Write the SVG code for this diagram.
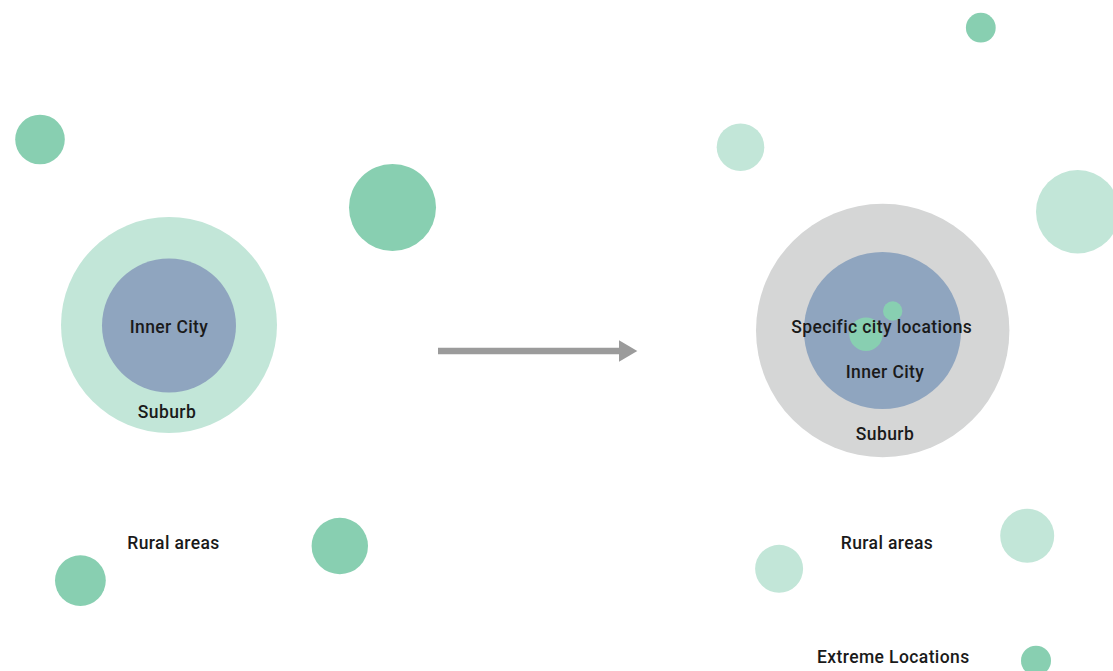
<svg xmlns="http://www.w3.org/2000/svg" width="1113" height="671" viewBox="0 0 1113 671">
  <style>
    .dot { fill: #88cfb1; }
    .dot-light { fill: #c2e6d8; }
    .city { fill: #8fa5bf; }
    .suburb-green { fill: #c2e6d8; }
    .suburb-grey { fill: #d5d6d6; }
    .label { font-family: Roboto, "Liberation Sans", Arial, sans-serif; font-weight: 500; font-size: 17.5px; letter-spacing: 0.4px; fill: #1a1a1a; text-anchor: middle; }
    .connector { stroke: #9b9b9b; stroke-width: 6.5; fill: none; }
  </style>
  <defs>
    <marker id="arrowhead" markerUnits="userSpaceOnUse" markerWidth="19" markerHeight="22" refX="1" refY="10.8" orient="auto">
      <path d="M0,0 L18.3,10.8 L0,21.6 Z" fill="#9b9b9b"/>
    </marker>
  </defs>
  <rect width="1113" height="671" fill="#ffffff"/>

  <!-- Before: city with a single suburb ring -->
  <g id="before-suburb">
    <circle class="suburb-green" cx="169" cy="325" r="108"/>
    <text class="label" x="167" y="418">Suburb</text>
  </g>
  <g id="before-inner-city">
    <circle class="city" cx="169" cy="325.5" r="67"/>
    <text class="label" x="169" y="333">Inner City</text>
  </g>
  <g id="before-rural">
    <circle class="dot" cx="40" cy="139.5" r="24.8"/>
    <circle class="dot" cx="392.5" cy="207.5" r="43.5"/>
    <circle class="dot" cx="339.8" cy="546" r="28.2"/>
    <circle class="dot" cx="80.4" cy="580.6" r="25.4"/>
    <text class="label" x="173.5" y="549">Rural areas</text>
  </g>

  <!-- Transition arrow -->
  <g id="connectors">
    <line class="connector" x1="438" y1="351" x2="620" y2="351" marker-end="url(#arrowhead)"/>
  </g>

  <!-- After: city with hotspots, greyed suburb, scattered locations -->
  <g id="after-suburb">
    <circle class="suburb-grey" cx="882.7" cy="330.5" r="126.7"/>
    <text class="label" x="885" y="439.5">Suburb</text>
  </g>
  <g id="after-inner-city">
    <circle class="city" cx="882.5" cy="330.5" r="78.6"/>
    <text class="label" x="885" y="377.7">Inner City</text>
  </g>
  <g id="after-city-locations">
    <circle class="dot" cx="892.7" cy="311" r="9.7"/>
    <circle class="dot" cx="866" cy="334.3" r="16.7"/>
    <text class="label" x="881.7" y="333.3">Specific city locations</text>
  </g>
  <g id="after-rural">
    <circle class="dot-light" cx="740.5" cy="147.2" r="23.8"/>
    <circle class="dot-light" cx="1077.7" cy="211.7" r="41.7"/>
    <circle class="dot-light" cx="1027.2" cy="535.8" r="27"/>
    <circle class="dot-light" cx="779.1" cy="568.8" r="24"/>
    <text class="label" x="887" y="549">Rural areas</text>
  </g>
  <g id="after-extreme">
    <circle class="dot" cx="980.8" cy="27.7" r="14.9"/>
    <circle class="dot" cx="1036" cy="660.7" r="15"/>
    <text class="label" x="893.3" y="663">Extreme Locations</text>
  </g>
</svg>
